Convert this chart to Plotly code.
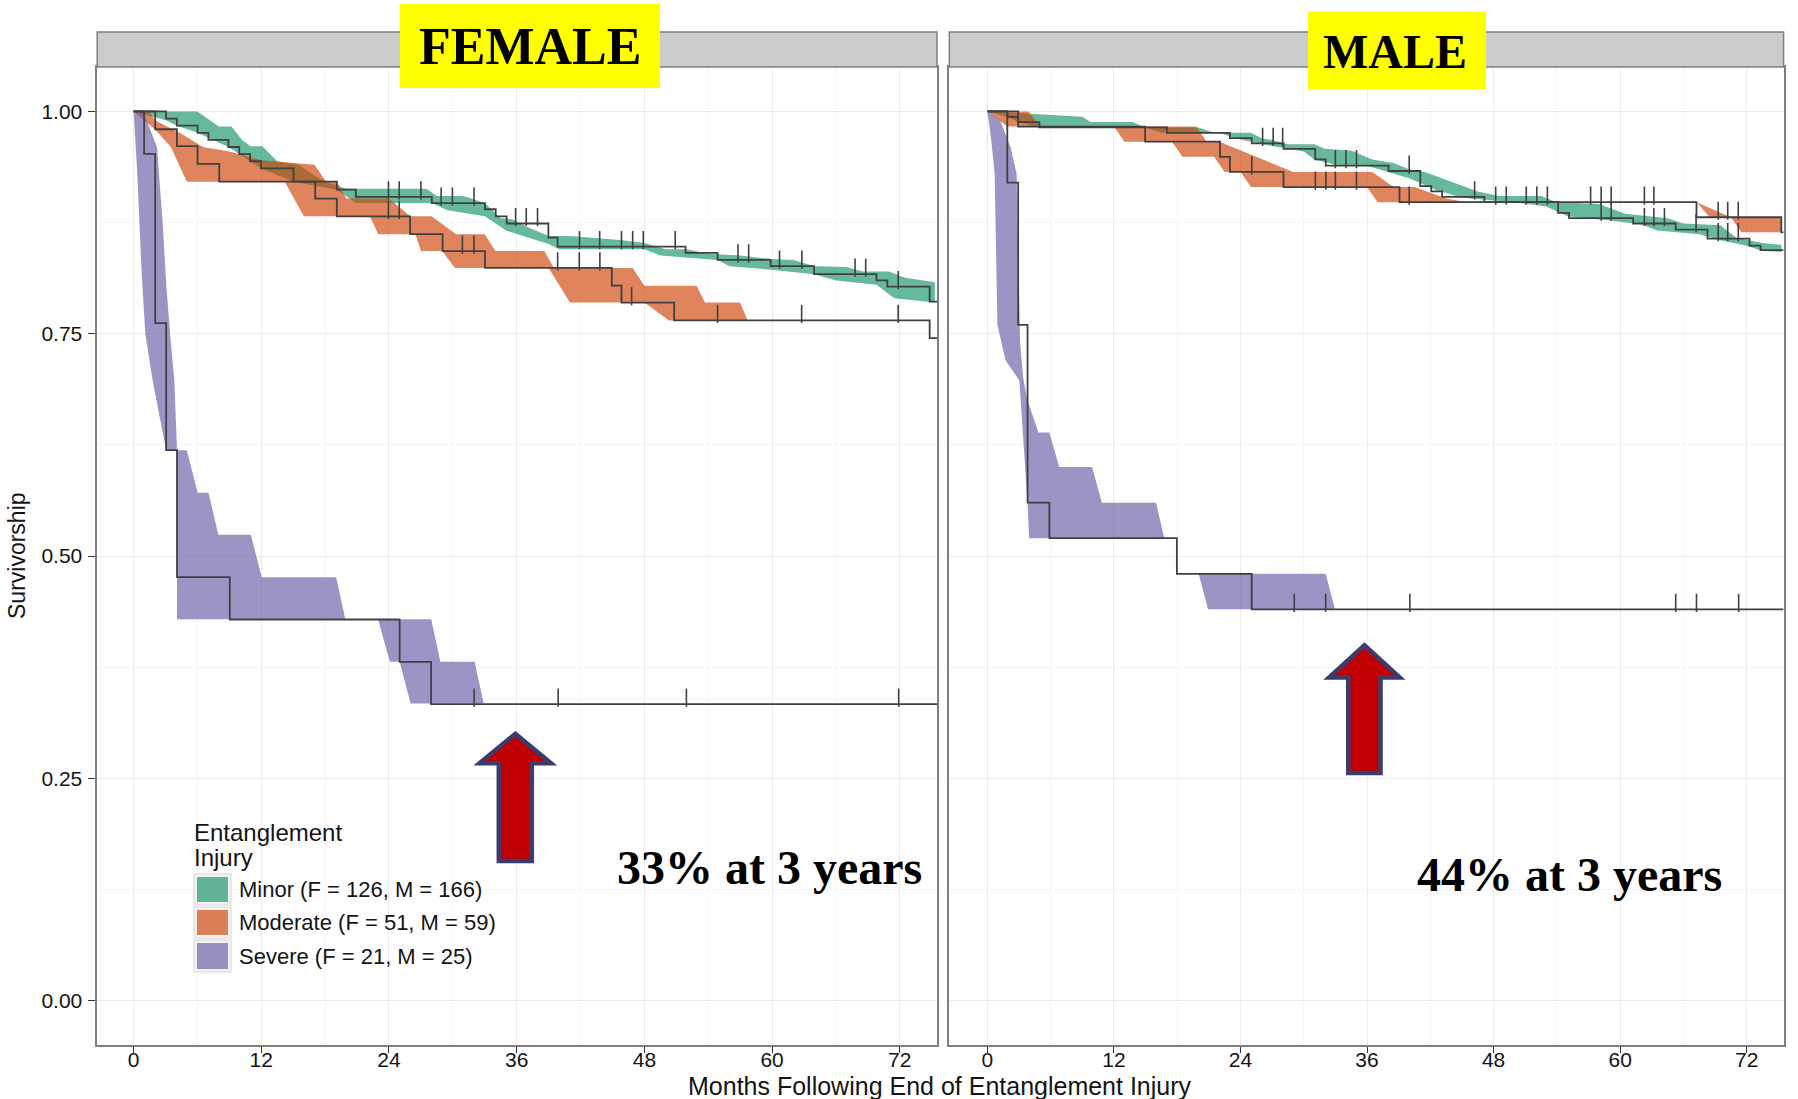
import plotly.graph_objects as go

W, H = 1798, 1099

# ---------------- Kaplan-Meier steps: months, survivorship ----------------
F_MINOR_T = [0, 3.05, 4.07, 6.01, 7.03, 8.91, 9.93, 10.95, 11.97, 15.03, 19.10, 20.89, 28.02,
             33.02, 34.03, 35.06, 38.98, 39.85, 51.87, 54.88, 59.87, 63.95, 69.81, 70.83, 74.81, 75.5]
F_MINOR_S = [1, 0.992, 0.984, 0.976, 0.968, 0.960, 0.952, 0.944, 0.936, 0.921, 0.912, 0.904, 0.897,
             0.890, 0.882, 0.874, 0.858, 0.848, 0.841, 0.833, 0.826, 0.817, 0.810, 0.803, 0.786, 0.786]
F_MINOR_CENS = [23.95, 24.96, 27.0, 28.9, 29.96, 31.99, 35.9, 36.9, 37.96, 41.9, 43.8, 45.85,
                46.9, 47.9, 50.9, 56.8, 57.8, 60.7, 62.8, 67.8, 68.8, 71.85]

F_MOD_T = [0, 2.03, 4.07, 6.01, 8.05, 17.07, 19.10, 25.98, 29.04, 33.02, 44.94, 45.85, 50.8, 74.81, 75.5]
F_MOD_S = [1, 0.980, 0.961, 0.941, 0.921, 0.902, 0.882, 0.862, 0.843, 0.824, 0.804, 0.785, 0.765, 0.745, 0.745]
F_MOD_CENS = [23.95, 24.96, 30.9, 31.99, 39.85, 41.88, 43.82, 46.8, 54.88, 62.78, 71.85]

F_SEV_T = [0, 0.99, 2.03, 3.06, 4.08, 9.04, 25.0, 27.96, 75.5]
F_SEV_S = [1, 20 / 21, 16 / 21, 13 / 21, 10 / 21, 9 / 21, 8 / 21, 7 / 21, 7 / 21]
F_SEV_CENS = [32.0, 39.9, 51.95, 71.9]

M_MINOR_T = [0, 1.89, 2.92, 4.93, 17.03, 23.0, 25.07, 28.08, 31.09, 32.08, 38.04, 41.05, 42.09,
             43.12, 47.12, 54.12, 55.16, 61.23, 65.27, 68.28, 72.27, 73.31, 75.5]
M_MINOR_S = [1, 0.994, 0.988, 0.982, 0.976, 0.970, 0.964, 0.958, 0.946, 0.939, 0.933, 0.916, 0.910,
             0.904, 0.898, 0.886, 0.880, 0.874, 0.867, 0.857, 0.849, 0.844, 0.844]
M_MINOR_CENS = [26.1, 27.1, 28.0, 33.0, 34.0, 35.0, 40.0, 46.2, 48.2, 49.2, 51.1, 52.1, 53.1,
                58.2, 59.15, 62.3, 63.2, 64.2, 67.2, 69.3, 70.2, 71.2]

M_MOD_T = [0, 2.92, 14.96, 22.06, 23.0, 28.08, 39.08, 67.24, 75.28, 75.5]
M_MOD_S = [1, 0.983, 0.966, 0.949, 0.932, 0.915, 0.898, 0.881, 0.864, 0.864]
M_MOD_CENS = [25.07, 31.1, 32.1, 33.0, 35.0, 40.0, 57.2, 58.2, 59.15, 62.3, 63.2, 69.3, 70.2, 71.2]

M_SEV_T = [0, 1.89, 2.92, 3.81, 5.88, 17.97, 25.07, 75.5]
M_SEV_S = [1, 0.92, 0.76, 0.56, 0.52, 0.48, 0.44, 0.44]
M_SEV_CENS = [29.1, 32.08, 40.06, 65.27, 67.24, 71.24]

# ---------------- shaded bands: (lower edge, upper edge) per segment ----------------
F_MINOR_BAND = [(
    [(0, 1), (3.05, 0.99), (4.07, 0.984), (6.01, 0.976), (8.91, 0.96), (11.97, 0.936), (15.03, 0.921),
     (19.1, 0.912), (20.9, 0.897), (28.0, 0.897), (29.5, 0.889), (33.0, 0.882), (35.0, 0.866),
     (39.0, 0.851), (40, 0.845), (48, 0.845), (49.5, 0.838), (54.9, 0.833), (56, 0.826),
     (59.9, 0.822), (63.95, 0.817), (66, 0.81), (69.8, 0.805), (71.5, 0.79), (75.3, 0.785)],
    [(0, 1), (6.0, 1), (8.0, 0.983), (9.2, 0.983), (10.2, 0.968), (11.0, 0.961), (12.1, 0.961),
     (13.5, 0.944), (15.5, 0.94), (17, 0.928), (18, 0.921), (20, 0.913), (27.5, 0.913), (28.5, 0.905),
     (31, 0.905), (33, 0.897), (34.5, 0.88), (35.5, 0.879), (37, 0.87), (39, 0.86), (41, 0.86),
     (43, 0.858), (46, 0.855), (48, 0.852), (50, 0.845), (52, 0.845), (54, 0.84), (57, 0.838),
     (60, 0.834), (62, 0.833), (64, 0.826), (67, 0.825), (68.5, 0.82), (71, 0.82), (72.5, 0.813),
     (75.3, 0.808)],
)]
F_MOD_BAND = [(
    [(0, 1), (2.0, 0.98), (3.5, 0.96), (5.0, 0.921), (14.2, 0.921), (16.0, 0.882), (22.2, 0.882),
     (23.0, 0.862), (26.5, 0.862), (27.0, 0.843), (29.0, 0.843), (30.2, 0.824), (39.0, 0.824),
     (41.0, 0.785), (48.0, 0.785), (50.3, 0.765), (57.7, 0.765)],
    [(0, 1), (1.5, 1), (2.0, 0.99), (4.5, 0.975), (6.5, 0.96), (9, 0.955), (12, 0.945), (17.0, 0.94),
     (18.1, 0.921), (19.1, 0.921), (20, 0.902), (24, 0.902), (26, 0.882), (28, 0.882), (30.3, 0.862),
     (33, 0.862), (34, 0.843), (38.6, 0.843), (39.5, 0.824), (46.9, 0.824), (48, 0.804),
     (52.9, 0.804), (53.7, 0.785), (57.0, 0.785), (57.7, 0.765)],
)]
F_SEV_BAND = [
    ([(0, 1), (0.35, 0.93), (0.75, 0.82), (1.1, 0.75), (1.79, 0.6975), (3.06, 0.619), (4.08, 0.619),
      (4.08, 0.429), (19.9, 0.429)],
     [(0, 1), (0.9, 1), (2.2, 0.96), (2.7, 0.88), (3.1, 0.80), (3.5, 0.74), (3.83, 0.6975),
      (4.08, 0.619), (5.0, 0.619), (6.02, 0.571), (7.04, 0.571), (7.96, 0.524), (11.02, 0.524),
      (12.04, 0.476), (19.03, 0.476), (19.9, 0.429)]),
    ([(22.97, 0.429), (24.09, 0.381), (25.0, 0.381), (26.03, 0.334), (32.9, 0.334)],
     [(22.97, 0.429), (27.97, 0.429), (28.83, 0.381), (32.05, 0.381), (32.9, 0.334)]),
]
M_MINOR_BAND = [(
    [(0, 1), (1.9, 0.994), (2.9, 0.988), (4.9, 0.982), (14.9, 0.982), (16.5, 0.976), (22.0, 0.976),
     (23.5, 0.970), (25, 0.966), (27.5, 0.96), (30.0, 0.955), (31.0, 0.946), (33, 0.94), (36.0, 0.939),
     (38.0, 0.932), (40.0, 0.925), (42.5, 0.912), (45.0, 0.903), (50.0, 0.898), (53.0, 0.893),
     (55.0, 0.882), (58.5, 0.878), (62.0, 0.873), (63.5, 0.866), (67.5, 0.862), (69.5, 0.855),
     (72.0, 0.849), (73.5, 0.843), (75.3, 0.842)],
    [(0, 1), (9.0, 0.994), (9.8, 0.988), (13.8, 0.988), (14.9, 0.982), (20.0, 0.982), (21.5, 0.976),
     (25.0, 0.976), (26.0, 0.970), (27, 0.968), (28.5, 0.963), (31.0, 0.963), (32.0, 0.958),
     (34.5, 0.956), (36.5, 0.946), (38.5, 0.942), (40.0, 0.935), (41.5, 0.932), (44.0, 0.921),
     (46.5, 0.91), (48.5, 0.905), (52.5, 0.905), (54.0, 0.898), (58, 0.896), (60.5, 0.885),
     (64.5, 0.88), (66, 0.874), (69.5, 0.872), (71.0, 0.858), (73.5, 0.852), (75.3, 0.85)],
)]
M_MOD_BAND = [(
    [(0, 1), (1.9, 0.983), (12.0, 0.983), (13.0, 0.966), (17.5, 0.966), (18.5, 0.949), (21.5, 0.949),
     (22.5, 0.932), (24.0, 0.932), (25.0, 0.915), (36.0, 0.915), (37.0, 0.898), (67.25, 0.898),
     (70.5, 0.881), (71.5, 0.864), (75.3, 0.864)],
    [(0, 1), (3.9, 1), (5.0, 0.983), (19.8, 0.983), (20.8, 0.966), (22.0, 0.966), (25.5, 0.949),
     (29.0, 0.932), (36.5, 0.932), (38.5, 0.915), (40.5, 0.915), (43.5, 0.902), (45.5, 0.898),
     (67.25, 0.898), (68.5, 0.881), (75.3, 0.881)],
)]
M_SEV_BAND = [
    ([(0, 1), (0.35, 0.97), (0.69, 0.93), (0.95, 0.76), (1.73, 0.72), (3.03, 0.6975), (3.81, 0.56),
      (3.96, 0.52), (16.77, 0.52)],
     [(0, 1), (1.2, 0.99), (2.2, 0.96), (2.77, 0.93), (3.0, 0.80), (3.1, 0.74), (3.4, 0.70),
      (3.81, 0.675), (4.84, 0.639), (5.88, 0.639), (6.81, 0.60), (9.93, 0.60), (10.86, 0.56),
      (16.0, 0.56), (16.77, 0.52)]),
    ([(20.04, 0.48), (20.92, 0.44), (32.96, 0.44)],
     [(20.04, 0.48), (32.08, 0.48), (32.96, 0.44)]),
]

GROUPS = ["Minor (F = 126, M = 166)", "Moderate (F = 51, M = 59)", "Severe (F = 21, M = 25)"]
FILLS = ["rgba(16,146,97,0.64)", "rgba(207,63,3,0.64)", "rgba(99,89,166,0.64)"]
LINE = "#404040"
SANS = "Liberation Sans"
SERIF = "Liberation Serif"
TEXT = "#141414"

PANELS = [
    ("x", "y", [(F_MINOR_T, F_MINOR_S, F_MINOR_CENS, F_MINOR_BAND),
                (F_MOD_T, F_MOD_S, F_MOD_CENS, F_MOD_BAND),
                (F_SEV_T, F_SEV_S, F_SEV_CENS, F_SEV_BAND)]),
    ("x2", "y2", [(M_MINOR_T, M_MINOR_S, M_MINOR_CENS, M_MINOR_BAND),
                  (M_MOD_T, M_MOD_S, M_MOD_CENS, M_MOD_BAND),
                  (M_SEV_T, M_SEV_S, M_SEV_CENS, M_SEV_BAND)]),
]


def px(v):
    return v / W


def py(v):
    return 1 - v / H


def step_value(times, surv, t):
    val = surv[0]
    for ti, si in zip(times, surv):
        if ti <= t:
            val = si
    return val


fig = go.Figure()

for xa, ya, groups in PANELS:
    # bands first
    for gi, (_, _, _, band) in enumerate(groups):
        bx, by = [], []
        for lo, hi in band:
            poly = lo + hi[::-1]
            bx += [p[0] for p in poly] + [None]
            by += [p[1] for p in poly] + [None]
        fig.add_trace(go.Scatter(x=bx, y=by, xaxis=xa, yaxis=ya, mode="lines", fill="toself",
                                 fillcolor=FILLS[gi], line=dict(width=0), hoverinfo="skip",
                                 showlegend=False))
    # survival steps and censoring ticks on top
    for gi, (t, s, cens, _) in enumerate(groups):
        fig.add_trace(go.Scatter(x=t, y=s, xaxis=xa, yaxis=ya, mode="lines", line_shape="hv",
                                 line=dict(color=LINE, width=1.8), name=GROUPS[gi], showlegend=False))
        fig.add_trace(go.Scatter(
            x=cens, y=[step_value(t, s, c) + 0.0073 for c in cens], xaxis=xa, yaxis=ya,
            mode="markers", marker=dict(symbol="line-ns", size=13, line=dict(color=LINE, width=1.6)),
            hoverinfo="skip", showlegend=False))

PLOT_TOP, PLOT_BOT = 67, 1045
F_X0, F_X1 = 97.2, 937.0
M_X0, M_X1 = 949.3, 1783.6

common_x = dict(dtick=12, tick0=0, showgrid=True, gridcolor="#EBEBEB", gridwidth=1.2,
                minor=dict(dtick=6, showgrid=True, gridcolor="#F5F5F5", gridwidth=1),
                zeroline=False, showline=True, mirror=True, linecolor="#7F7F7F", linewidth=1.5,
                ticks="outside", ticklen=6, tickwidth=1.4, tickcolor="#333333",
                ticklabelstandoff=-11,
                tickfont=dict(family=SANS, size=21, color=TEXT), automargin=False)
common_y = dict(range=[-0.05, 1.05], domain=[py(PLOT_BOT), py(PLOT_TOP)],
                tickvals=[0, 0.25, 0.5, 0.75, 1.0], tickformat=".2f",
                showgrid=True, gridcolor="#EBEBEB", gridwidth=1.2,
                minor=dict(dtick=0.125, tick0=0, showgrid=True, gridcolor="#F5F5F5", gridwidth=1),
                zeroline=False, showline=True, mirror=True, linecolor="#7F7F7F", linewidth=1.5,
                tickcolor="#333333", tickfont=dict(family=SANS, size=21, color=TEXT),
                automargin=False)

fig.update_layout(
    width=W, height=H, margin=dict(l=0, r=0, t=0, b=0),
    paper_bgcolor="white", plot_bgcolor="white", showlegend=False,
    xaxis=dict(common_x, domain=[px(F_X0), px(F_X1)], range=[-3.42, 75.5], anchor="y"),
    xaxis2=dict(common_x, domain=[px(M_X0), px(M_X1)], range=[-3.61, 75.5], anchor="y2"),
    yaxis=dict(common_y, anchor="x", ticks="outside", ticklen=7, tickwidth=1.4, ticklabelstandoff=2),
    yaxis2=dict(common_y, anchor="x2", ticks="", showticklabels=False),
)

shapes = []
# facet strips
for x0, x1 in [(F_X0, F_X1), (M_X0, M_X1)]:
    shapes.append(dict(type="rect", xref="paper", yref="paper", x0=px(x0), x1=px(x1),
                       y0=py(PLOT_TOP), y1=py(32), fillcolor="#CCCCCC",
                       line=dict(color="#7F7F7F", width=1.5), layer="above"))
# yellow title boxes
for x0, x1, y0, y1 in [(400, 660, 4, 88), (1308, 1486, 11.5, 89)]:
    shapes.append(dict(type="rect", xref="paper", yref="paper", x0=px(x0), x1=px(x1),
                       y0=py(y1), y1=py(y0), fillcolor="#FFFF00", line=dict(width=0), layer="above"))


def arrow_path(xc, tip, neck, base, head_hw, shaft_hw):
    return (f"M {xc},{tip} L {xc + head_hw},{neck} L {xc + shaft_hw},{neck} "
            f"L {xc + shaft_hw},{base} L {xc - shaft_hw},{base} L {xc - shaft_hw},{neck} "
            f"L {xc - head_hw},{neck} Z")


# arrows pointing at the 36-month survivorship
for xr, yr, args in [("x", "y", (35.87, 0.300, 0.267, 0.157, 3.35, 1.55)),
                     ("x2", "y2", (35.75, 0.3996, 0.3633, 0.256, 3.35, 1.53))]:
    shapes.append(dict(type="path", xref=xr, yref=yr, path=arrow_path(*args),
                       fillcolor="#C00000", line=dict(color="#3D3B6B", width=4.5), layer="above"))

# legend panel
LEG_KEYS_Y = [(874, 905), (907, 938), (940, 972)]
shapes.append(dict(type="rect", xref="paper", yref="paper", x0=px(187), x1=px(520),
                   y0=py(978), y1=py(814), fillcolor="white", line=dict(width=0), layer="between"))
for gi, (k0, k1) in enumerate(LEG_KEYS_Y):
    shapes.append(dict(type="rect", xref="paper", yref="paper", x0=px(194), x1=px(231),
                       y0=py(k1), y1=py(k0), fillcolor="#F2F2F2", line=dict(color="#E3E3E3", width=1.5),
                       layer="above"))
    shapes.append(dict(type="rect", xref="paper", yref="paper", x0=px(197), x1=px(228),
                       y0=py(k1 - 3), y1=py(k0 + 3), fillcolor=FILLS[gi], line=dict(width=0),
                       layer="above"))

annotations = [
    dict(text="<b>FEMALE</b>", x=px(530), y=py(47), font=dict(family=SERIF, size=52, color="black")),
    dict(text="<b>MALE</b>", x=px(1395), y=py(51), font=dict(family=SERIF, size=48, color="black")),
    dict(text="<b>33% at 3 years</b>", x=px(769.5), y=py(867), font=dict(family=SERIF, size=48, color="black")),
    dict(text="<b>44% at 3 years</b>", x=px(1569.5), y=py(874), font=dict(family=SERIF, size=48, color="black")),
    dict(text="Months Following End of Entanglement Injury", x=px(940), y=py(1086),
         font=dict(family=SANS, size=25, color=TEXT)),
    dict(text="Survivorship", x=px(17), y=py(556), textangle=-90,
         font=dict(family=SANS, size=23, color=TEXT)),
    dict(text="Entanglement", x=px(192), y=py(832), xanchor="left",
         font=dict(family=SANS, size=24, color=TEXT)),
    dict(text="Injury", x=px(192), y=py(857), xanchor="left",
         font=dict(family=SANS, size=24, color=TEXT)),
]
for gi, (k0, k1) in enumerate(LEG_KEYS_Y):
    annotations.append(dict(text=GROUPS[gi], x=px(237), y=py((k0 + k1) / 2), xanchor="left",
                            font=dict(family=SANS, size=22, color=TEXT)))
for a in annotations:
    a.update(xref="paper", yref="paper", showarrow=False)
    a.setdefault("xanchor", "center")
    a.setdefault("yanchor", "middle")

fig.update_layout(shapes=shapes, annotations=annotations)
fig.write_html("out.html")
